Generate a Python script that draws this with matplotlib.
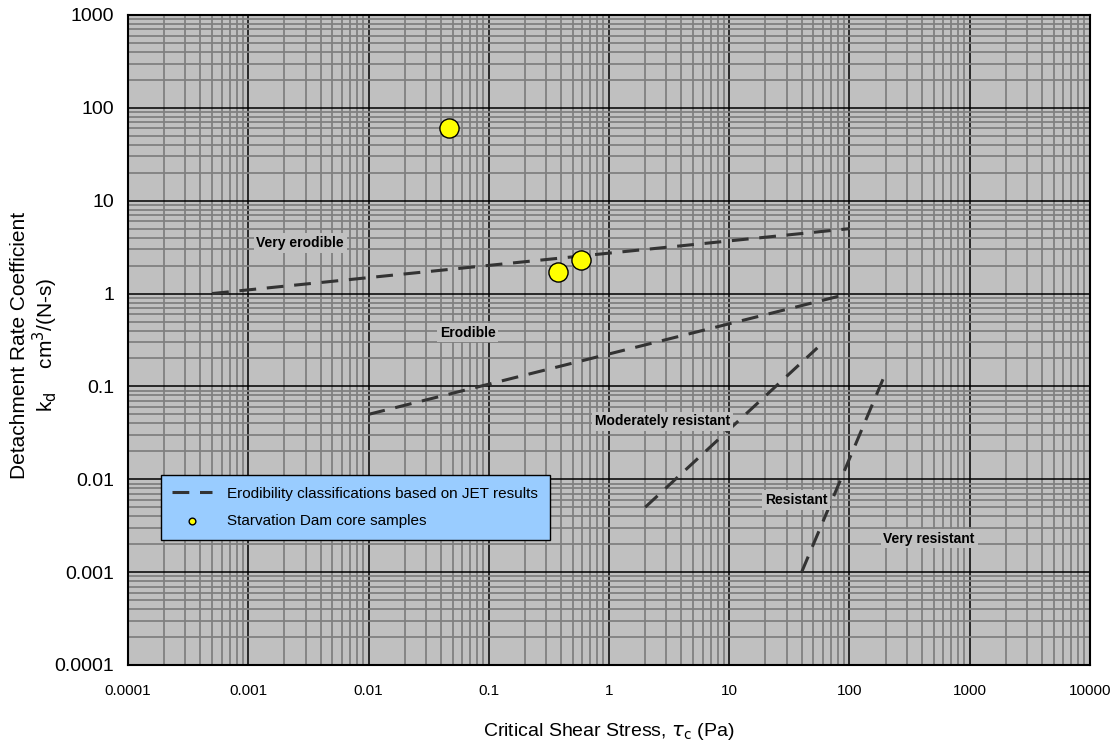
import numpy as np
import matplotlib
matplotlib.use("Agg")
import matplotlib.pyplot as plt
from matplotlib.ticker import LogLocator, FixedLocator, NullFormatter

plt.rcParams['font.family'] = ['Liberation Sans', 'DejaVu Sans']

# erodibility class boundaries (tau_c in Pa, kd in cm3/(N-s))
bound_very_erodible = ([0.0005, 100], [1.0, 5.0])
bound_erodible = ([0.01, 100], [0.05, 1.0])
bound_moderate = ([2, 54], [0.005, 0.26])
bound_resistant = ([40, 200], [0.001, 0.14])

# core samples
sample_tau = [0.047, 0.38, 0.58]
sample_kd = [60.0, 1.7, 2.3]

class_labels = ["Very erodible", "Erodible", "Moderately resistant", "Resistant", "Very resistant"]
label_x = [0.0027, 0.067, 2.8, 36, 460]
label_y = [3.5, 0.38, 0.042, 0.006, 0.0023]

fig = plt.figure(figsize=(11.2, 7.46), dpi=100)
ax = fig.add_axes([0.1143, 0.1086, 0.8589, 0.8713])
ax.set_facecolor('#c0c0c0')
ax.set_xscale('log')
ax.set_yscale('log')
ax.set_xlim(1e-4, 1e4)
ax.set_ylim(1e-4, 1e3)

majors_x = [10.0**k for k in range(-4, 5)]
majors_y = [10.0**k for k in range(-4, 4)]
ax.xaxis.set_major_locator(FixedLocator(majors_x))
ax.yaxis.set_major_locator(FixedLocator(majors_y))
ax.xaxis.set_minor_locator(LogLocator(base=10, subs=np.arange(2, 10), numticks=20))
ax.yaxis.set_minor_locator(LogLocator(base=10, subs=np.arange(2, 10), numticks=20))
ax.xaxis.set_minor_formatter(NullFormatter())
ax.yaxis.set_minor_formatter(NullFormatter())
ax.set_xticklabels(['0.0001', '0.001', '0.01', '0.1', '1', '10', '100', '1000', '10000'], fontsize=11)
ax.set_yticklabels(['0.0001', '0.001', '0.01', '0.1', '1', '10', '100', '1000'], fontsize=14)

ax.grid(which='minor', color='#808080', linewidth=1.3, zorder=0)
ax.grid(which='major', color='black', linewidth=1.1, zorder=0)
ax.set_axisbelow(True)
ax.tick_params(which='both', length=0)
ax.tick_params(axis='x', pad=14)
ax.tick_params(axis='y', pad=10)
for s in ax.spines.values():
    s.set_linewidth(1.5)

dash = dict(color='#333333', linewidth=2.2, dashes=(5.5, 3.5), zorder=3)
ax.plot(*bound_very_erodible, label='Erodibility classifications based on JET results', **dash)
ax.plot(*bound_erodible, **dash)
ax.plot(*bound_moderate, **dash)
ax.plot(*bound_resistant, **dash)

ax.scatter(sample_tau, sample_kd, s=190, facecolor='#ffff00', edgecolor='black',
           linewidth=1.0, zorder=4, label='Starvation Dam core samples')

for txt, x, y in zip(class_labels, label_x, label_y):
    ax.text(x, y, txt, fontsize=10, fontweight='bold', ha='center', va='center', zorder=5,
            bbox=dict(facecolor='#c0c0c0', edgecolor='none', pad=2))

leg = ax.legend(loc='upper left', bbox_to_anchor=(0.034, 0.292), fontsize=11,
                frameon=True, fancybox=False, facecolor='#99ccff', edgecolor='black',
                framealpha=1, handlelength=2.6, handletextpad=1.0, borderpad=0.75,
                labelspacing=0.9, markerscale=0.35, borderaxespad=0)
leg.get_frame().set_linewidth(1.0)

ax.set_xlabel(r'Critical Shear Stress, $\tau_\mathrm{c}$ (Pa)', fontsize=14, labelpad=16)
fig.text(35 / 1120, 1 - 345 / 746,
         'Detachment Rate Coefficient\n' r'k$_\mathrm{d}$    cm$^3$/(N-s)',
         rotation=90, ha='center', va='center', fontsize=15, linespacing=1.05)

fig.savefig('out.png', dpi=100)
